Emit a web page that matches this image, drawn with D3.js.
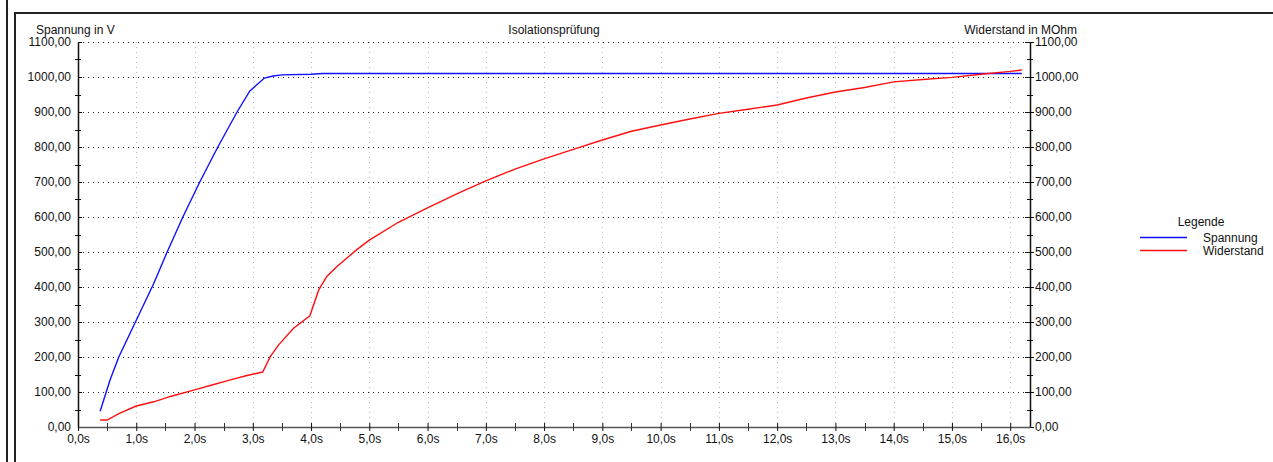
<!DOCTYPE html>
<html><head><meta charset="utf-8">
<script src="https://cdn.jsdelivr.net/npm/d3@7"></script>
<style>
html,body{margin:0;padding:0;background:#fff;}
svg text{font-family:"Liberation Sans",Arial,Helvetica,sans-serif;font-size:12px;fill:#111;}
</style></head>
<body><svg id="c" width="1273" height="462"></svg>
<script>
const title = "Isolationsprüfung";
const leftAxisTitle = "Spannung in V";
const rightAxisTitle = "Widerstand in MOhm";
const legendTitle = "Legende";
const seriesNames = ["Spannung", "Widerstand"];
const seriesColors = ["#1010ff", "#ff1010"];
const xTicks = [0,1,2,3,4,5,6,7,8,9,10,11,12,13,14,15,16];
const yTicks = [0,100,200,300,400,500,600,700,800,900,1000,1100];

const spannungT = [0.38,0.55,0.7,1.0,1.3,1.53,1.8,2.09,2.4,2.73,2.95,3.05,3.2,3.35,3.5,4.0,4.2,16.2];
const spannungV = [45,134,200,305,410,500,600,700,800,900,960,975,997,1003,1006,1008,1010,1010];

const widerstandT = [0.38,0.5,0.7,1.0,1.3,1.6,2.0,2.3,2.6,2.9,3.17,3.3,3.44,3.7,3.98,4.13,4.27,4.44,4.78,5.0,5.5,6.0,6.5,7.0,7.5,8.0,8.5,9.0,9.5,10.0,10.5,11.0,11.5,12.0,12.5,13.0,13.5,14.0,14.5,15.0,15.5,16.0,16.2];
const widerstandV = [20,20,38,60,72,88,106,120,134,147,157,201,234,282,318,391,430,458,506,534,585,626,666,703,737,766,793,820,845,863,880,896,908,920,940,957,970,986,993,999,1008,1016,1020];

const svg = d3.select("#c");
const x = d3.scaleLinear().domain([0, 16.34]).range([78, 1030]);
const y = d3.scaleLinear().domain([0, 1100]).range([427, 42]);
const fmtY = v => d3.format(".2f")(v).replace(".", ",");
const fmtX = v => d3.format(".1f")(v).replace(".", ",") + "s";

// frame
svg.append("line").attr("x1",7).attr("x2",7).attr("y1",0).attr("y2",462).attr("stroke","#222").attr("stroke-width",2);
svg.append("line").attr("x1",15).attr("x2",15).attr("y1",12).attr("y2",462).attr("stroke","#222").attr("stroke-width",2);
svg.append("line").attr("x1",14).attr("x2",1273).attr("y1",13).attr("y2",13).attr("stroke","#222").attr("stroke-width",2);

// grid
svg.append("g").selectAll("line").data(xTicks.filter(d=>d>0)).join("line")
  .attr("x1",d=>Math.round(x(d))+0.5).attr("x2",d=>Math.round(x(d))+0.5)
  .attr("y1",y(1100)).attr("y2",y(0))
  .attr("stroke","#bbb").attr("stroke-width",1).attr("stroke-dasharray","1,4");
svg.append("g").selectAll("line").data(yTicks.filter(d=>d>0)).join("line")
  .attr("x1",x(0)).attr("x2",x.range()[1])
  .attr("y1",d=>Math.round(y(d))+0.5).attr("y2",d=>Math.round(y(d))+0.5)
  .attr("stroke","#222").attr("stroke-width",1).attr("stroke-dasharray","1,4");

// axes
const minorY = d3.range(50, 1100, 100);
const minorX = d3.range(0.5, 16.3, 1);
function styleAxis(g){ g.select(".domain").attr("stroke","#111"); g.selectAll(".tick line").attr("stroke","#111"); g.selectAll("text").attr("fill","#111").style("font-size","12px").style("font-family","Liberation Sans, Arial, sans-serif"); }

const ly = svg.append("g").attr("transform","translate(78,0)")
  .call(d3.axisLeft(y).tickValues(yTicks).tickFormat(fmtY).tickSize(5).tickSizeOuter(0).tickPadding(2));
ly.selectAll(".tick line").attr("x2",4);
styleAxis(ly);
ly.select(".domain").attr("stroke-width",1.5);
svg.append("g").selectAll("line").data(minorY).join("line")
  .attr("x1",75).attr("x2",81).attr("y1",d=>Math.round(y(d))+0.5).attr("y2",d=>Math.round(y(d))+0.5).attr("stroke","#111");

const ry = svg.append("g").attr("transform","translate(1030,0)")
  .call(d3.axisRight(y).tickValues(yTicks).tickFormat(fmtY).tickSize(4).tickSizeOuter(0).tickPadding(1));
ry.selectAll(".tick line").attr("x1",-5);
styleAxis(ry);
ry.select(".domain").attr("stroke-width",1.5);
svg.append("g").selectAll("line").data(minorY).join("line")
  .attr("x1",1027).attr("x2",1033).attr("y1",d=>Math.round(y(d))+0.5).attr("y2",d=>Math.round(y(d))+0.5).attr("stroke","#111");

const bx = svg.append("g").attr("transform","translate(0,427)")
  .call(d3.axisBottom(x).tickValues(xTicks).tickFormat(fmtX).tickSize(4).tickSizeOuter(0).tickPadding(3));
bx.selectAll(".tick line").attr("y1",-4);
styleAxis(bx);
bx.select(".domain").attr("stroke","#555").attr("stroke-width",1.5);
svg.append("g").selectAll("line").data(minorX).join("line")
  .attr("x1",d=>Math.round(x(d))+0.5).attr("x2",d=>Math.round(x(d))+0.5).attr("y1",423).attr("y2",431).attr("stroke","#333");

// titles
svg.append("text").attr("x",(x(0)+x.range()[1])/2).attr("y",34).attr("text-anchor","middle").text(title);
svg.append("text").attr("x",36).attr("y",34).text(leftAxisTitle);
svg.append("text").attr("x",1077).attr("y",34).attr("text-anchor","end").text(rightAxisTitle);

// lines
const line = d3.line().x(d=>x(d[0])).y(d=>y(d[1]));
const series = [d3.zip(spannungT, spannungV), d3.zip(widerstandT, widerstandV)];
svg.append("g").selectAll("path").data(series).join("path")
  .attr("d", line).attr("fill","none")
  .attr("stroke",(d,i)=>seriesColors[i]).attr("stroke-width",1.4);

// legend
svg.append("text").attr("x",1201).attr("y",226).attr("text-anchor","middle").text(legendTitle);
const lg = svg.append("g").selectAll("g").data(seriesNames).join("g")
  .attr("transform",(d,i)=>`translate(0,${237+i*13})`);
lg.append("line").attr("x1",1140).attr("x2",1187).attr("y1",0.5).attr("y2",0.5).attr("stroke",(d,i)=>seriesColors[i]).attr("stroke-width",1.4);
lg.append("text").attr("x",1203).attr("y",5).text(d=>d);
</script></body></html>
